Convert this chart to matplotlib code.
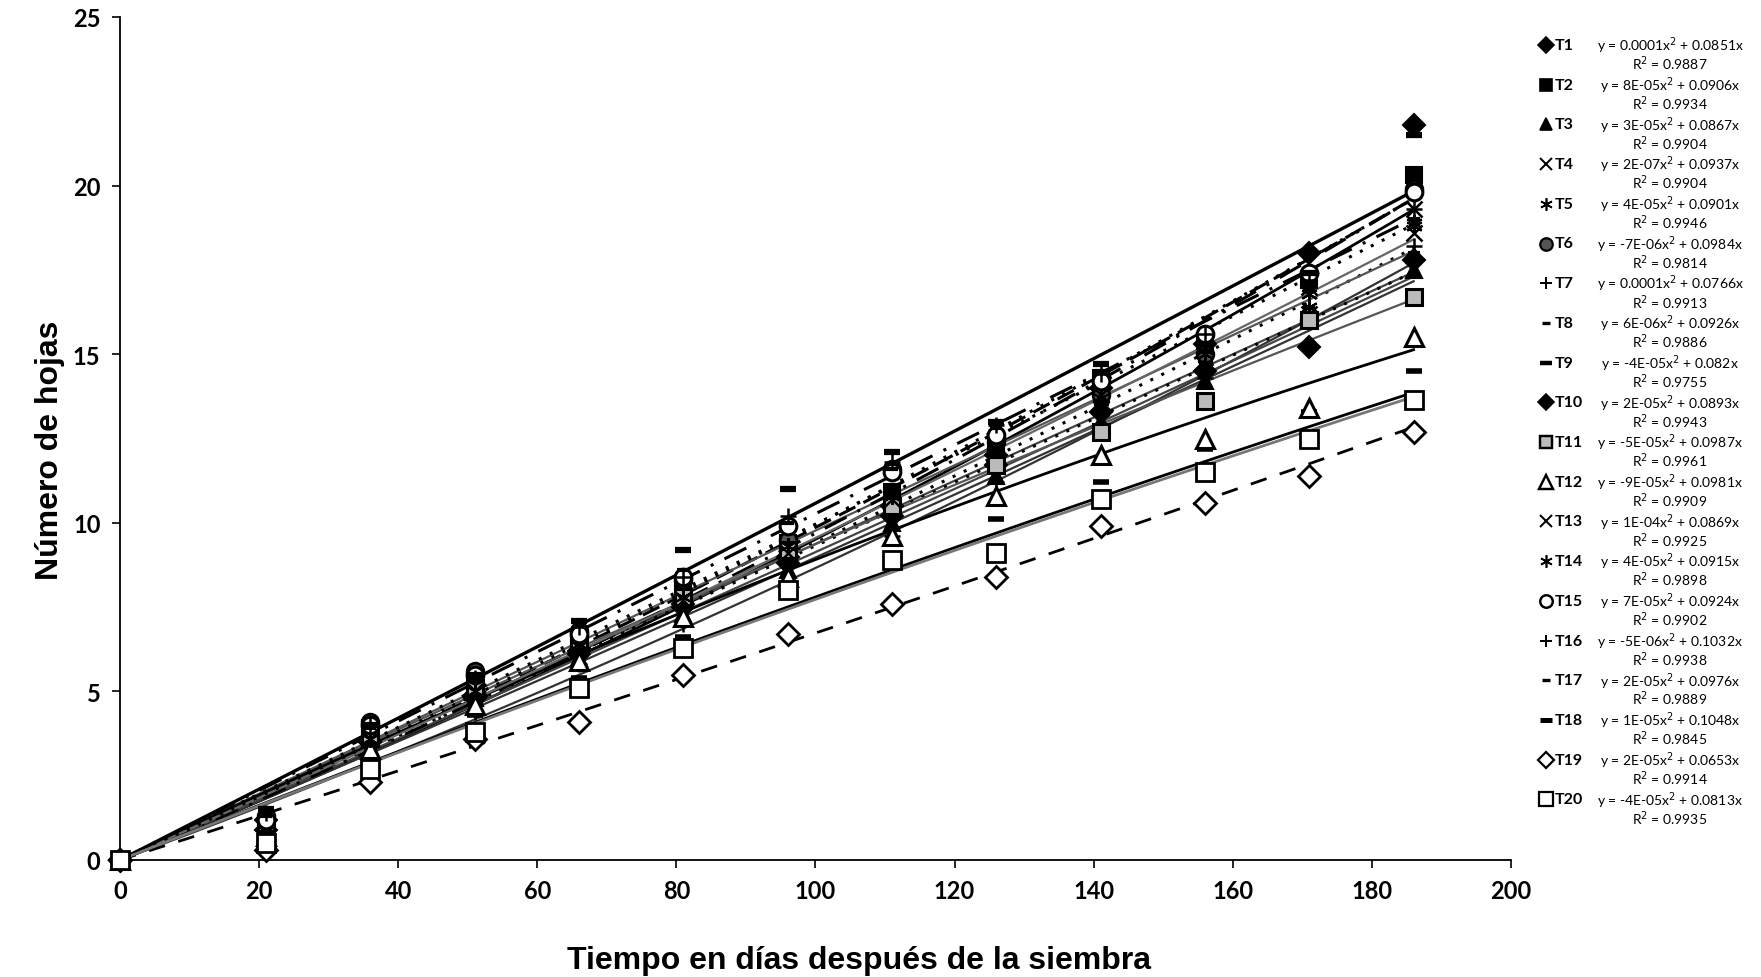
import numpy as np
import matplotlib
matplotlib.use("Agg")
import matplotlib.pyplot as plt

# ---------------- data ----------------
days = [0, 21, 36, 51, 66, 81, 96, 111, 126, 141, 156, 171, 186]
treatments = [f"T{i}" for i in range(1, 21)]

T1 = [0, 1.2, 3.5, 4.9, 6.2, 7.6, 9.0, 10.5, 12.0, 14.0, 15.3, 18.0, 21.8]
T2 = [0, 1.0, 3.9, 5.3, 6.6, 8.0, 9.4, 10.9, 12.3, 14.3, 15.4, 17.2, 20.3]
T3 = [0, 0.8, 3.6, 4.8, 6.0, 7.3, 8.6, 10.0, 11.4, 13.0, 14.2, 16.0, 17.5]
T4 = [0, 0.9, 3.7, 5.0, 6.3, 7.7, 9.2, 10.6, 11.9, 13.4, 14.8, 16.2, 18.6]
T5 = [0, 0.8, 3.6, 5.0, 6.3, 7.6, 9.2, 10.6, 12.0, 13.6, 14.9, 16.4, 18.9]
T6 = [0, 1.3, 4.1, 5.6, 6.8, 8.3, 9.5, 11.6, 12.4, 13.8, 15.0, 16.0, 19.9]
T7 = [0, 0.6, 3.1, 4.4, 5.8, 7.0, 8.2, 9.6, 11.2, 12.9, 14.3, 16.1, 18.2]
T8 = [0, 1.0, 3.8, 5.2, 6.6, 7.9, 9.3, 10.7, 12.1, 13.6, 14.7, 16.4, 18.0]
T9 = [0, 0.5, 3.1, 4.3, 5.4, 6.6, 7.8, 9.0, 10.1, 11.2, 12.2, 13.3, 14.5]
T10 = [0, 0.9, 3.5, 4.8, 6.1, 7.5, 8.8, 10.2, 11.7, 13.3, 14.5, 15.2, 17.8]
T11 = [0, 1.1, 3.7, 5.1, 6.5, 7.8, 9.2, 10.5, 11.7, 12.7, 13.6, 16.0, 16.7]
T12 = [0, 0.7, 3.3, 4.6, 5.9, 7.2, 8.4, 9.6, 10.8, 12.0, 12.5, 13.4, 15.5]
T13 = [0, 0.8, 3.6, 5.0, 6.3, 7.7, 9.1, 10.7, 12.2, 13.8, 15.2, 17.0, 19.3]
T14 = [0, 0.9, 3.6, 5.0, 6.4, 7.8, 9.3, 10.8, 12.2, 13.7, 15.0, 16.8, 18.8]
T15 = [0, 1.2, 4.0, 5.5, 6.7, 8.4, 9.9, 11.5, 12.6, 14.2, 15.6, 17.4, 19.8]
T16 = [0, 1.4, 4.0, 5.4, 6.9, 8.4, 10.2, 11.8, 12.9, 14.4, 15.6, 17.2, 19.3]
T17 = [0, 1.3, 3.9, 5.3, 7.0, 8.6, 10.0, 11.6, 12.8, 14.5, 15.1, 16.9, 19.0]
T18 = [0, 1.5, 4.0, 5.5, 7.1, 9.2, 11.0, 12.1, 13.0, 14.7, 15.3, 17.4, 21.5]
T19 = [0, 0.3, 2.3, 3.6, 4.1, 5.5, 6.7, 7.6, 8.4, 9.9, 10.6, 11.4, 12.7]
T20 = [0, 0.5, 2.7, 3.8, 5.1, 6.3, 8.0, 8.9, 9.1, 10.7, 11.5, 12.5, 13.65]
series = [T1, T2, T3, T4, T5, T6, T7, T8, T9, T10,
          T11, T12, T13, T14, T15, T16, T17, T18, T19, T20]

# trendline coefficients as printed in the legend (y = a x^2 + b x)
quad_coef = [0.0001, 8e-05, 3e-05, 2e-07, 4e-05, -7e-06, 0.0001, 6e-06, -4e-05, 2e-05,
             -5e-05, -9e-05, 1e-04, 4e-05, 7e-05, -5e-06, 2e-05, 1e-05, 2e-05, -4e-05]
lin_coef = [0.0851, 0.0906, 0.0867, 0.0937, 0.0901, 0.0984, 0.0766, 0.0926, 0.082, 0.0893,
            0.0987, 0.0981, 0.0869, 0.0915, 0.0924, 0.1032, 0.0976, 0.1048, 0.0653, 0.0813]
quad_txt = ["0.0001", "8E-05", "3E-05", "2E-07", "4E-05", "-7E-06", "0.0001", "6E-06", "-4E-05", "2E-05",
            "-5E-05", "-9E-05", "1E-04", "4E-05", "7E-05", "-5E-06", "2E-05", "1E-05", "2E-05", "-4E-05"]
lin_txt = ["0.0851", "0.0906", "0.0867", "0.0937", "0.0901", "0.0984", "0.0766", "0.0926", "0.082", "0.0893",
           "0.0987", "0.0981", "0.0869", "0.0915", "0.0924", "0.1032", "0.0976", "0.1048", "0.0653", "0.0813"]
r2_txt = ["0.9887", "0.9934", "0.9904", "0.9904", "0.9946", "0.9814", "0.9913", "0.9886", "0.9755", "0.9943",
          "0.9961", "0.9909", "0.9925", "0.9898", "0.9902", "0.9938", "0.9889", "0.9845", "0.9914", "0.9935"]

# ---------------- styles ----------------
ast = (6, 2, 0)
markers = ['D', 's', '^', 'x', ast, 'o', '+', '_', '_', 'D',
           's', '^', 'x', ast, 'o', '+', '_', '_', 'D', 's']
mfaces = ['black', 'black', 'black', 'black', 'black', '#555555', 'black', 'black', 'black', 'black',
          '#bbbbbb', 'white', 'black', 'black', 'white', 'black', 'black', 'black', 'white', 'white']
msizes = [11, 11, 12, 11, 12, 12, 12, 8, 12, 11,
          12, 13, 11, 12, 12, 12, 8, 12, 11, 13]
mew = [1.5, 1.5, 1.5, 1.8, 1.5, 2.0, 1.8, 3.0, 4.0, 1.5,
       2.2, 2.2, 1.8, 1.5, 2.2, 1.8, 3.0, 4.5, 2.0, 2.0]
lstyles = ['-', (0, (6, 3)), '-', '-', (0, (1, 3)), '-', '-', (0, (1, 3)), '-', '-',
           '-', '-', (0, (8, 4, 1, 4)), '-', (0, (1, 3)), (0, (8, 4, 1, 4)), (0, (1, 3)), '-', (0, (6, 5)), '-']
lcolors = ['black', 'black', '#333333', '#444444', 'black', '#555555', '#333333', 'black', 'black', '#444444',
           '#555555', 'black', 'black', '#666666', 'black', 'black', 'black', 'black', 'black', '#777777']
lwidths = [2.0, 2.2, 1.6, 1.6, 2.2, 1.6, 1.6, 2.2, 2.0, 1.6,
           1.6, 2.0, 2.2, 1.6, 2.2, 2.2, 2.2, 2.4, 2.0, 2.0]

# ---------------- figure ----------------
W, H = 1761, 978
fig = plt.figure(figsize=(W / 100, H / 100), dpi=100)
fig.patch.set_facecolor('white')

ax = fig.add_axes([120 / W, 1 - 861 / H, (1511 - 120) / W, (861 - 18) / H])
xfit = np.linspace(0, 186, 200)
for i in range(20):
    yfit = np.polyval([quad_coef[i], lin_coef[i], 0.0], xfit)
    ax.plot(xfit, yfit, linestyle=lstyles[i], color=lcolors[i], lw=lwidths[i], zorder=2)
for i in range(20):
    ax.plot(days, series[i], linestyle='none', marker=markers[i], ms=msizes[i],
            mfc=mfaces[i], mec='black', mew=mew[i], color='black', zorder=3, clip_on=False)

ax.set_xlim(0, 200)
ax.set_ylim(0, 25)
ax.set_xticks(range(0, 201, 20))
ax.set_yticks(range(0, 26, 5))
for s in ['top', 'right']:
    ax.spines[s].set_visible(False)
for s in ['left', 'bottom']:
    ax.spines[s].set_linewidth(1.3)
ax.tick_params(axis='both', direction='out', length=6, width=1.2, labelsize=17, pad=8)
for lab in ax.get_xticklabels() + ax.get_yticklabels():
    lab.set_fontfamily('Lato')
    lab.set_fontweight('bold')

fig.text(859 / W, 1 - 961 / H, 'Tiempo en días después de la siembra',
         ha='center', va='center', fontsize=23, fontweight='bold', family='Liberation Sans')
fig.text(50 / W, 1 - 450 / H, 'Número de hojas', ha='center', va='center', rotation=90,
         fontsize=23, fontweight='bold', family='Liberation Sans')

# ---------------- legend ----------------
lg = fig.add_axes([1530 / W, 0, (W - 1530) / W, 1])
lg.set_xlim(1530, W)
lg.set_ylim(H, 0)
lg.axis('off')
y0, dy = 46, 39.7
for i in range(20):
    yy = y0 + i * dy
    lg.plot([1546], [yy], linestyle='none', marker=markers[i], ms=msizes[i] * 0.75,
            mfc=mfaces[i], mec='black', mew=mew[i] * 0.8, clip_on=False)
    lg.text(1555, yy, treatments[i], ha='left', va='center', fontsize=11.5,
            family='Lato', fontweight='bold')
    lg.text(1670, yy, f"y = {quad_txt[i]}x$^2$ + {lin_txt[i]}x", ha='center', va='center',
            fontsize=10, family='Lato')
    lg.text(1670, yy + 18, f"R$^2$ = {r2_txt[i]}", ha='center', va='center',
            fontsize=10, family='Lato')

fig.savefig('out.png', dpi=100, facecolor='white')
